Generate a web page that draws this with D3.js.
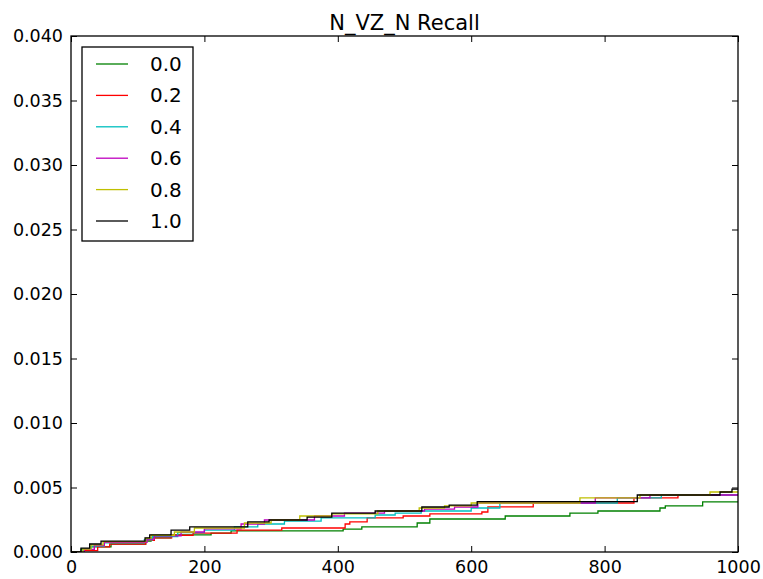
<!DOCTYPE html>
<html>
<head>
<meta charset="utf-8">
<script src="https://cdn.jsdelivr.net/npm/d3@7"></script>
<style>
  body { margin: 0; background: #fff; }
  text { font-family: "DejaVu Sans", sans-serif; fill: #000; }
</style>
</head>
<body>
<svg id="chart"></svg>
<script>
// step change points: [x, recall]
var labels = ["0.0", "0.2", "0.4", "0.6", "0.8", "1.0"];
var colors = ["#008000", "#ff0000", "#00bfbf", "#bf00bf", "#bfbf00", "#000000"];

var s00 = [[0,0],[15,0.00023],[28,0.00039],[60,0.00062],[112,0.00085],[120,0.00109],[150,0.00132],[210,0.00147],[240,0.00163],[408,0.00178],[436,0.00194],[519,0.00225],[538,0.00256],[651,0.00279],[748,0.00302],[790,0.00318],[883,0.00341],[891,0.00357],[947,0.00388],[1000,0.00388]];
var s02 = [[0,0],[20,0.0001],[40,0.0004],[58,0.00062],[112,0.0009],[125,0.0011],[151,0.0013],[183,0.00147],[249,0.0017],[316,0.00186],[411,0.00217],[418,0.00233],[444,0.00264],[498,0.00279],[538,0.00295],[616,0.0031],[625,0.0035],[693,0.0038],[844,0.00419],[910,0.00442],[1000,0.00442]];
var s04 = [[0,0],[18,0.0002],[30,0.00045],[50,0.0007],[110,0.00095],[122,0.0012],[160,0.0015],[200,0.0017],[245,0.00194],[280,0.00217],[320,0.0024],[375,0.00264],[456,0.00287],[486,0.00302],[525,0.00318],[600,0.00341],[643,0.0038],[819,0.00419],[885,0.00442],[1000,0.00442]];
var s06 = [[0,0],[20,0.0002],[35,0.0005],[50,0.00075],[114,0.001],[125,0.00125],[165,0.00155],[200,0.0018],[255,0.00217],[290,0.00248],[365,0.00279],[410,0.00302],[470,0.00318],[530,0.00333],[575,0.00349],[610,0.0038],[786,0.00419],[868,0.00442],[1000,0.00442]];
var s08 = [[0,0],[18,0.00023],[30,0.00055],[48,0.0008],[112,0.00105],[120,0.0013],[155,0.00155],[185,0.00186],[260,0.00225],[300,0.00248],[343,0.00279],[391,0.00295],[460,0.00318],[522,0.00341],[560,0.00357],[600,0.0038],[763,0.00419],[853,0.00442],[958,0.00465],[1000,0.00465]];
var s10 = [[0,0],[15,0.0003],[28,0.00062],[45,0.00085],[111,0.0011],[118,0.00132],[150,0.0017],[178,0.00194],[265,0.00233],[297,0.00248],[354,0.00271],[391,0.00302],[456,0.00318],[526,0.00349],[567,0.00364],[609,0.0039],[849,0.00442],[973,0.00465],[991,0.00488],[1000,0.00488]];
var series = [s00, s02, s04, s06, s08, s10];

var xTicks = [0, 200, 400, 600, 800, 1000];
var yTicks = [0, 0.005, 0.01, 0.015, 0.02, 0.025, 0.03, 0.035, 0.04];

var width = 763, height = 579;
var margin = { top: 36, right: 25, bottom: 27, left: 71 };
var w = width - margin.left - margin.right;
var h = height - margin.top - margin.bottom;

var svg = d3.select("#chart").attr("width", width).attr("height", height);
var g = svg.append("g").attr("transform", "translate(" + margin.left + "," + margin.top + ")");

var x = d3.scaleLinear().domain([0, 1000]).range([0, w]);
var y = d3.scaleLinear().domain([0, 0.04]).range([h, 0]);

g.append("clipPath").attr("id", "clip")
  .append("rect").attr("width", w).attr("height", h);

var line = d3.line()
  .x(function (d) { return x(d[0]); })
  .y(function (d) { return y(d[1]); })
  .curve(d3.curveStepAfter);

var plot = g.append("g").attr("clip-path", "url(#clip)");
series.forEach(function (s, i) {
  plot.append("path")
    .datum(s)
    .attr("d", line)
    .style("fill", "none")
    .style("stroke", colors[i])
    .style("stroke-width", 1.3);
});

// ticks inside, on all four sides (classic style)
var tl = 6;
g.append("g").attr("transform", "translate(0," + h + ")")
  .call(d3.axisBottom(x).tickValues(xTicks).tickSize(-tl).tickPadding(tl + 3).tickFormat(d3.format("d")));
g.append("g")
  .call(d3.axisTop(x).tickValues(xTicks).tickSize(-tl).tickFormat(""));
g.append("g")
  .call(d3.axisLeft(y).tickValues(yTicks).tickSize(-tl).tickPadding(tl + 2).tickFormat(d3.format(".3f")));
g.append("g").attr("transform", "translate(" + w + ",0)")
  .call(d3.axisRight(y).tickValues(yTicks).tickSize(-tl).tickFormat(""));
g.selectAll(".domain").remove();
g.selectAll(".tick line").style("stroke", "#000").style("stroke-width", 1);
g.selectAll(".tick text").style("font-size", "17.5px").style("font-family", "DejaVu Sans");

g.append("rect")
  .attr("width", w).attr("height", h)
  .style("fill", "none").style("stroke", "#000").style("stroke-width", 1.3);

svg.append("text")
  .attr("x", margin.left + w / 2).attr("y", 30)
  .attr("text-anchor", "middle")
  .style("font-size", "21px")
  .text("N_VZ_N Recall");

// legend
var lg = g.append("g").attr("transform", "translate(11,11)");
lg.append("rect")
  .attr("width", 111).attr("height", 194)
  .style("fill", "#fff").style("stroke", "#000").style("stroke-width", 1.3);
labels.forEach(function (lab, i) {
  var yy = 17 + i * 31.4;
  lg.append("line")
    .attr("x1", 14).attr("x2", 46).attr("y1", yy).attr("y2", yy)
    .style("stroke", colors[i]).style("stroke-width", 1.3);
  lg.append("text")
    .attr("x", 68).attr("y", yy + 7)
    .style("font-size", "20px")
    .text(lab);
});
</script>
</body>
</html>
